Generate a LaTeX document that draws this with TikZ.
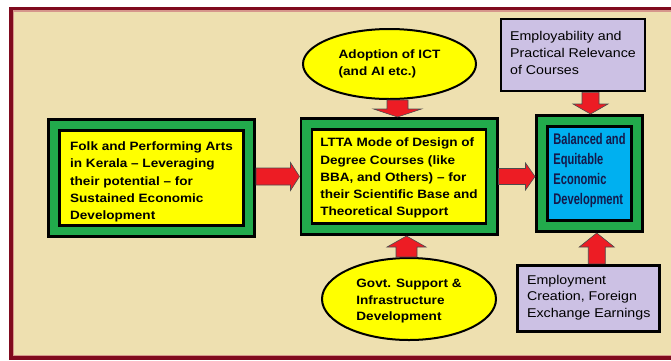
\documentclass[tikz,border=0pt]{standalone}
\usepackage{fontspec}
\usetikzlibrary{shapes.geometric,calc}

\newfontfamily\boxfont{Liberation Sans}[FakeStretch=1.12]
\newfontfamily\narrowfont{Liberation Sans}[FakeStretch=0.72]

\definecolor{pagebeige}{RGB}{238,224,176}
\definecolor{framered}{RGB}{128,10,30}
\definecolor{framepink}{RGB}{214,150,140}
\definecolor{boxgreen}{RGB}{34,170,76}
\definecolor{boxyellow}{RGB}{255,255,0}
\definecolor{boxblue}{RGB}{0,176,240}
\definecolor{boxlilac}{RGB}{204,193,228}
\definecolor{arrowred}{RGB}{237,28,36}
\definecolor{textnavy}{RGB}{20,25,75}

\tikzset{
  flowarrow/.style={fill=arrowred,draw=black!70,line width=0.6pt},
}

% fat arrow from #1 to the tip #2: half shaft, half head, head length
\newcommand\blockarrow[5]{%
  \coordinate (ah) at ($(#2)!#5!(#1)$);
  \filldraw[flowarrow] ($(#1)!#3!90:(#2)$) -- ($(ah)!#3!-90:(#1)$)
    -- ($(ah)!#4!-90:(#1)$) -- (#2) -- ($(ah)!#4!90:(#1)$)
    -- ($(ah)!#3!90:(#1)$) -- ($(#1)!#3!-90:(#2)$) -- cycle;}

\begin{document}
\begin{tikzpicture}[x=1pt,y=1pt]
        \useasboundingbox (0,0) rectangle (671,-360);
        \clip (0,0) rectangle (671,-360);
        \fill[white] (0,0) rectangle (671,-360);
        \draw[framered,line width=3.5pt,fill=pagebeige] (11,-8.5) rectangle (700,-358);
        \draw[framepink,line width=1.2pt] (13.4,-10.9) rectangle (700,-355.6);

        \begin{scope}[every node/.style={draw=black,line width=2.7pt,inner sep=0pt,
            outer sep=12.5pt,align=left,
            preaction={draw=black,line width=25pt},
            preaction={draw=boxgreen,line width=19.6pt},
            font=\boxfont\bfseries\fontsize{12.1}{17.2}\selectfont}]
          \node[fill=boxyellow,minimum width=184pt,minimum height=95pt] (1) at (151.5,-178) {};
          \node[fill=boxyellow,minimum width=174pt,minimum height=94pt,text height=81pt] (2) at (399,-176.5)
            {LTTA Mode of Design of\\Degree Courses (like\\BBA, and Others) – for\\their Scientific Base and\\Theoretical Support};
          \node[fill=boxblue,minimum width=84pt,minimum height=94pt,text=textnavy,text depth=9pt,
            font=\narrowfont\bfseries\fontsize{15.4}{20.1}\selectfont] (3) at (589.5,-173.5)
            {Balanced and\\Equitable\\Economic\\Development};
        \end{scope}

        \begin{scope}
          \clip (1.north west) rectangle ([yshift=6pt]1.south east);
          \node[inner sep=0pt,align=left,font=\boxfont\bfseries\fontsize{12.1}{17.2}\selectfont] (1t) at (151.5,-182)
            {Folk and Performing Arts\\in Kerala – Leveraging\\their potential – for\\Sustained Economic\\Development};
        \end{scope}

        \begin{scope}[every node/.style={ellipse,draw=black,line width=2pt,fill=boxyellow,
            inner sep=0pt,align=left,font=\boxfont\bfseries\fontsize{12.1}{16.7}\selectfont}]
          \node[minimum width=173pt,minimum height=70pt] (4) at (389.5,-64) {Adoption of ICT\\(and AI etc.)};
          \node[minimum width=174pt,minimum height=82pt,text height=46pt] (5) at (409,-299) {Govt. Support \&\\Infrastructure\\Development};
        \end{scope}

        \begin{scope}[every node/.style={draw=black,line width=2.7pt,fill=boxlilac,
            inner sep=0pt,align=left,font=\boxfont\fontsize{12.7}{16.7}\selectfont}]
          \node[minimum width=144pt,minimum height=72pt,text depth=4.5pt] (6) at (573,-55) {Employability and\\Practical Relevance\\of Courses};
          \node[minimum width=142pt,minimum height=66.5pt,text depth=4.5pt] (7) at (588.75,-298.5) {Employment\\Creation, Foreign\\Exchange Earnings};
        \end{scope}

        \coordinate (4f) at ($(4.south)+(8,0)$);
        \coordinate (5f) at ($(5.north)+(-2.5,0)$);
        \coordinate (6f) at ($(6.south)+(17.5,0)$);
        \coordinate (7f) at ($(7.north)+(8,0)$);

        \blockarrow{2.west -| 1.east}{2.west}{8.5pt}{14pt}{9pt}
        \blockarrow{2.east}{2.east -| 3.west}{8pt}{13.5pt}{9.5pt}
        \blockarrow{4f}{4f |- 2.north}{10.5pt}{24pt}{8pt}
        \blockarrow{5f}{5f |- 2.south}{10.5pt}{19.5pt}{11pt}
        \blockarrow{6f}{6f |- 3.north}{8.5pt}{17.5pt}{10pt}
        \blockarrow{7f}{7f |- 3.south}{8.5pt}{17.5pt}{14pt}

\end{tikzpicture}
\end{document}
